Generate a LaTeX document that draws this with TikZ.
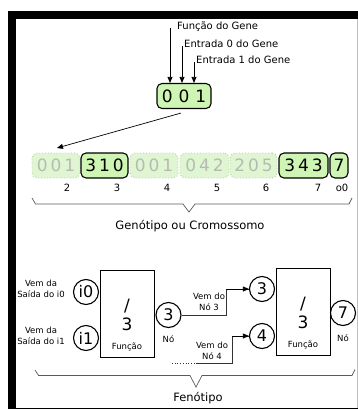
\documentclass[tikz,border=0pt]{standalone}
\usepackage{fontspec}
\setmainfont{DejaVu Sans}
\usetikzlibrary{arrows.meta}

\definecolor{genefill}{RGB}{206,245,180}
\definecolor{fadefill}{RGB}{224,246,210}
\definecolor{fadeline}{RGB}{185,205,178}
\definecolor{fadetext}{RGB}{180,188,178}
\definecolor{bracecol}{RGB}{90,90,90}

\begin{document}
\begin{tikzpicture}[x=1pt,y=-1pt,
  lbl/.style={font=\fontsize{10}{12}\selectfont, inner sep=0pt},
  biglbl/.style={font=\fontsize{11.5}{13}\selectfont, inner sep=0pt},
  small/.style={font=\fontsize{8.5}{11}\selectfont, align=center, inner sep=0pt},
  genebox/.style={draw, line width=1.1pt, rounded corners=5pt, fill=genefill,
    minimum height=25pt, inner sep=0pt, font=\fontsize{17}{17}\selectfont},
  fadebox/.style={draw=fadeline, dotted, line width=0.9pt, rounded corners=5pt,
    fill=fadefill, text=fadetext, minimum height=25pt, inner sep=0pt,
    font=\fontsize{17}{17}\selectfont},
  circ/.style={circle, draw, line width=1.1pt, minimum size=25pt, inner sep=0pt,
    font=\fontsize{16}{16}\selectfont},
  funcbox/.style={draw, line width=0.9pt, minimum width=54pt, minimum height=87pt, inner sep=0pt},
  tip/.style={-{Triangle[length=6pt,width=5pt]}, line width=0.7pt},
  wire/.style={line width=0.7pt, draw=black!80},
  bracket/.style={draw=bracecol, line width=0.7pt}]

\useasboundingbox (0,0) rectangle (358,410);

% outer frame
\fill[black] (8,11) rectangle (358,19);
\fill[black] (8,11) rectangle (16,409);
\draw[black, line width=1pt] (8,408.5) -- (358,408.5);
\draw[black!25, line width=0.6pt] (357.5,19) -- (357.5,408);

% single gene with its three fields
\node[genebox, minimum width=54pt] (gb) at (184,96) {0\hspace{6pt}0\hspace{6pt}1};
\node[lbl, anchor=west] (lf) at (177,27) {Função do Gene};
\node[lbl, anchor=west] (l0) at (184,44) {Entrada 0 do Gene};
\node[lbl, anchor=west] (l1) at (196,60) {Entrada 1 do Gene};
\coordinate (af) at (170,28);
\coordinate (a0) at (182,46);
\coordinate (a1) at (194,62);
\draw[tip] (af) -- (af |- gb.north);
\draw[tip] (a0) -- (a0 |- gb.north);
\draw[tip] (a1) -- (a1 |- gb.north);

% genotype row
\node[fadebox, minimum width=48pt] (g1) at (56,165.5) {0\hspace{3pt}0\hspace{3pt}1};
\node[genebox, minimum width=47pt] (g2) at (104.5,165.5) {3\hspace{3pt}1\hspace{3pt}0};
\node[fadebox, minimum width=48pt] (g3) at (154,165.5) {0\hspace{3pt}0\hspace{3pt}1};
\node[fadebox, minimum width=49pt] (g4) at (204.5,165.5) {0\hspace{3pt}4\hspace{3pt}2};
\node[fadebox, minimum width=47pt] (g5) at (253.5,165.5) {2\hspace{3pt}0\hspace{3pt}5};
\node[genebox, minimum width=49pt] (g6) at (303.5,165.5) {3\hspace{3pt}4\hspace{3pt}3};
\node[genebox, minimum width=18pt] (g7) at (339,165.5) {7};

\coordinate (gtip) at (57,148);
\draw[tip] ([xshift=-3pt,yshift=-4pt]gb.south) -- (gtip);

\node[lbl] (n2) at (67,188) {2};
\node[lbl] (n3l) at (117,188) {3};
\node[lbl] (n4l) at (167,188) {4};
\node[lbl] (n5l) at (217,188) {5};
\node[lbl] (n6l) at (266,188) {6};
\node[lbl] (n7l) at (318,188) {7};
\node[lbl] (no0) at (342,188) {o0};

% brace under the genotype
\draw[bracket] (32,198) -- (35.5,204) -- (183,204) -- (189,212) -- (195,204) -- (349,204) -- (352,198);
\node[biglbl] (gen) at (190,226) {Genótipo ou Cromossomo};

% phenotype: first node
\node[funcbox] (f1) at (127,313.5) {};
\node[font=\fontsize{17}{17}\selectfont, inner sep=0pt] (f1op) at (127,306) {/};
\node[font=\fontsize{17}{17}\selectfont, inner sep=0pt] (f1n) at (127,324) {3};
\node[small] (f1t) at (127,347) {Função};

\node[circ] (i0) at (86,292) {i0};
\node[circ] (i1) at (86,338) {i1};
\node[small] (si0) at (41,289) {Vem da\\Saída do i0};
\node[small] (si1) at (41,336) {Vem da\\Saída do i1};

\node[circ] (n3) at (168.5,315) {3};
\node[small] (no1) at (168.5,339) {Nó};

% phenotype: second node
\node[funcbox] (f2) at (303,311.5) {};
\node[font=\fontsize{17}{17}\selectfont, inner sep=0pt] (f2op) at (303,304) {/};
\node[font=\fontsize{17}{17}\selectfont, inner sep=0pt] (f2n) at (303,322) {3};
\node[small] (f2t) at (303,345) {Função};

\node[circ] (m3) at (262,289) {3};
\node[circ] (m4) at (262,336) {4};
\node[circ] (n7) at (343,313) {7};
\node[small] (no2) at (343,338) {Nó};

% wires between the nodes
\coordinate (bx1) at (226,0);
\coordinate (bx2) at (232,0);
\coordinate (dstart) at (172,363);
\coordinate (dmid) at (196,363);
\draw[wire] (n3.east) -- (n3.east -| bx1) |- (m3.west);
\draw[tip] (bx1 |- m3.west) -- (m3.west);
\draw[wire, dotted] (dstart) -- (dmid);
\draw[wire] (dmid) -- (dmid -| bx2) |- (m4.west);
\draw[tip] (bx2 |- m4.west) -- (m4.west);
\node[small] (v3) at (209,302) {Vem do\\Nó 3};
\node[small] (v4) at (212,351) {Vem do\\Nó 4};

% brace under the phenotype
\draw[bracket] (35,370) -- (38.5,375.5) -- (190,375.5) -- (196,387) -- (202,375.5) -- (352,375.5) -- (355,369.5);
\node[biglbl] (fen) at (198,398) {Fenótipo};

\end{tikzpicture}
\end{document}
